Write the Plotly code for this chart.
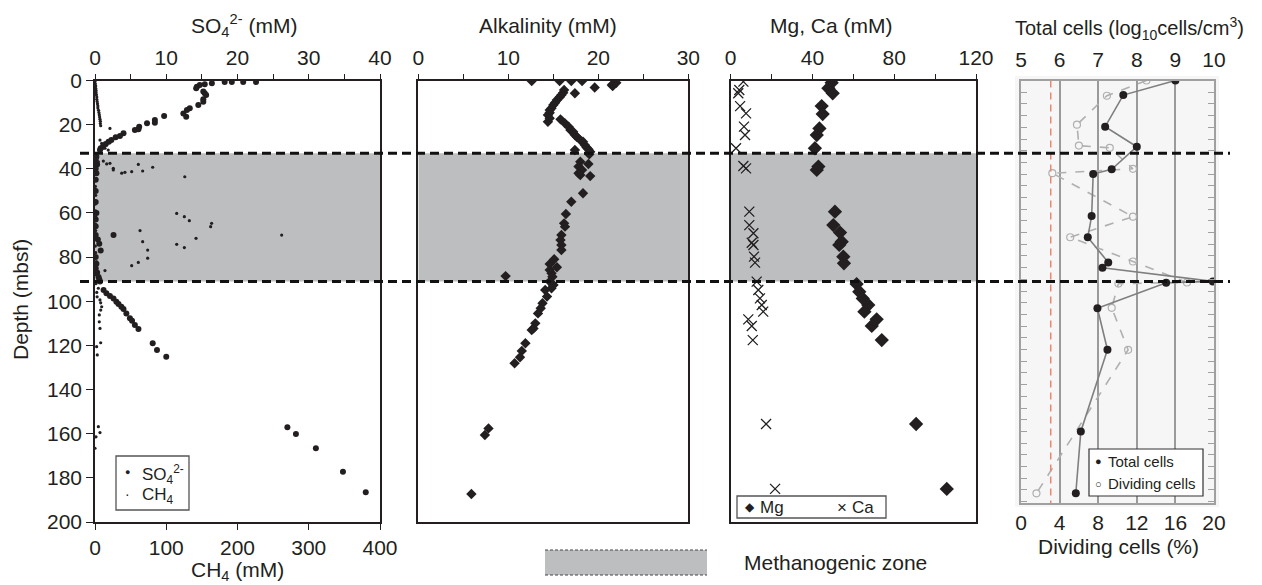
import plotly.graph_objects as go

# ---------------- DATA ----------------
so4_depth = [0.7, 0.7, 0.7, 0.7, 1.3, 1.7, 2.0, 2.8, 3.5, 5.0, 5.8, 6.6, 8.5, 9.6, 11.1,
             12.6, 13.4, 14.9, 16.4, 16.1, 17.9, 19.1, 19.4, 20.9, 22.1, 22.4, 23.9, 25.1,
             25.7, 27.0, 27.7, 28.8, 30.0, 30.7, 31.5,
             34.5, 36, 38, 40, 42, 45, 50, 55, 60, 63, 66, 70, 72, 74, 77, 80, 83, 85, 87, 89, 90, 70,
             91.1, 94.9, 96.4, 97.6, 98.7, 100.2, 101.2, 102.5, 103.5, 105.5, 107.7, 108.8, 110.8, 112.6,
             119.0, 122.1, 125.1, 157.1, 160.1, 166.6, 177.2, 186.5]
so4_mM = [18.2, 19.2, 20.8, 22.6, 16.4, 15.4, 14.7, 14.3, 14.2, 15.2, 15.4, 15.6, 15.2, 15.2, 14.5,
          13.3, 12.9, 12.4, 12.8, 9.7, 8.4, 8.4, 7.3, 6.2, 6.1, 5.6, 4.0, 3.5,
          2.9, 2.3, 1.9, 1.5, 1.1, 0.8, 0.7,
          0.2, 0.1, 0.3, 0.1, 0.2, 0.1, 0.1, 0.1, 0.2, 0.1, 0.1, 0.1, 0.4, 0.6, 0.8, 0.1, 0.2, 0.1, 0.3, 0.5, 0.6, 2.6,
          0.7, 1.2, 1.6, 2.1, 2.6, 3.0, 3.3, 3.7, 4.0, 4.4, 4.9, 5.2, 5.6, 6.1,
          8.1, 8.7, 10.0, 27.0, 28.2, 31.0, 34.8, 38.0]

ch4_depth = [0.5, 1.5, 2.5, 3.5, 4.5, 5.5, 6.5, 7.5, 8.5, 9.5, 10.5, 11.5, 12.5, 13.5, 14.5,
             15.5, 16.5, 17.5, 18.5, 19.5, 20.5, 21.7,
             27.0, 28.5, 30.3, 30.7, 31.5, 29.2, 28.2, 31.5,
             36.8, 36.5, 37.8, 37.5, 39.8, 40.5, 42.0, 41.6, 41.3, 38.0, 41.0, 39.3,
             43.6, 60.2, 61.7, 63.5, 64.7, 66.2, 68.0, 71.5, 73.0, 76.8, 80.5, 82.4, 83.9,
             74.2, 75.7, 70.0, 86.1,
             34, 40, 45, 48, 52, 56, 59, 62, 65, 68, 72, 75, 78, 82, 85, 88,
             92, 94.1, 96, 98, 99.4, 100.7, 102.5, 104.0, 106.2, 109.3, 112.3, 118.8, 120.6, 124.3,
             156.8, 159.5, 161.4, 166.6]
ch4_mM = [0, 0.5, 1, 1, 1.5, 1.5, 2, 2.5, 2.5, 3, 3.5, 4, 4, 5, 5.5,
          6, 6.5, 7, 7.5, 7.5, 8, 21,
          7, 9.4, 11.7, 14, 8, 16.4, 21, 18.6,
          4.7, 11.7, 16.4, 21, 25.7, 25.7, 37.5, 42, 51.5, 60.8, 66.9, 81,
          126, 114.7, 125.4, 132.4, 163.7, 162.3, 63.2, 141.8, 66.9, 73.9, 73.9, 60.8, 51.5,
          114.7, 125.4, 262, 14,
          1.0, 0.5, 1.5, 0.5, 1.0, 0.5, 1.0, 1.5, 0.5, 1.0, 1.5, 0.5, 1.0, 2.0, 1.0, 1.5,
          1.5, 4.7, 2.5, 3.0, 7.0, 8.0, 9.4, 8.0, 6.0, 6.0, 7.0, 8.0, 2.3, 3.2,
          4.7, 7.0, 1.4, 0.0]

alk_depth = [0.2, 0.2, 0.2, 0.2, 3.2, 2.0, 1.6, 1.0, 2.5, 5.8, 4.3, 5.5, 6.6, 7.6,
             8.8, 10.1, 11.1, 12.6, 13.4, 14.6, 15.6, 18.7, 17.1,
             17.6, 19.4, 20.9, 22.4, 23.2, 24.7, 25.5, 27.0, 27.7, 29.2, 30.3, 31.2, 32.3, 33.4, 31.5,
             36.8, 37.8, 39.0, 40.5, 42.0, 42.8, 43.3, 51.1, 54.9, 60.5, 64.7, 66.2,
             70.0, 72.3, 74.5, 76.8, 81.0, 83.1, 84.6, 85.8, 87.3, 88.9, 91.1, 92.6, 94.1, 88.6,
             92.6, 94.9, 97.9, 100.9, 103.2, 105.5, 110.0, 112.3, 113.0, 119.0, 122.5, 125.4, 128.1,
             157.6, 160.6, 187.3]
alk_mM = [12.6, 15.7, 17.0, 18.2, 19.6, 21.5, 21.7, 22.0, 21.6, 17.4, 16.2, 16.1, 15.9, 15.7,
          15.4, 15.2, 15.0, 14.8, 14.6, 14.6, 14.4, 14.4, 14.6,
          15.8, 16.3, 16.7, 16.9, 17.2, 17.4, 17.6, 18.0, 18.3, 18.5, 18.7, 18.9, 19.1, 19.0, 17.4,
          18.0, 18.9, 17.8, 18.2, 17.8, 18.0, 19.1, 18.3, 17.0, 16.4, 16.2, 16.3,
          15.9, 15.8, 15.9, 15.9, 15.1, 14.6, 15.4, 14.6, 14.8, 14.9, 14.6, 15.0, 14.8, 9.7,
          15.0, 14.1, 14.3, 13.8, 13.6, 13.3, 13.0, 12.8, 12.6, 11.9, 11.5, 11.3, 10.7,
          7.8, 7.4, 5.9]

mg_depth = [1.0, 3.5, 5.8, 11.6, 15.2, 21.7, 24.7, 30.7, 39.0, 40.5,
            59.4, 65.5, 68.9, 73.0, 74.5, 79.8, 82.8,
            92.2, 95.7, 98.7, 101.7, 104.7, 108.2, 111.2, 117.6, 155.6, 185.0]
mg_mM = [49.4, 47.8, 49.9, 44.5, 45.0, 43.4, 42.1, 41.2, 42.9, 42.1,
         51.0, 50.2, 53.5, 54.3, 53.1, 55.1, 55.4,
         61.6, 62.9, 64.6, 67.3, 65.4, 71.4, 69.0, 73.9, 90.7, 105.7]

ca_depth = [0.5, 4.3, 5.8, 11.6, 14.9, 20.9, 24.7, 30.7, 38.7, 39.8,
            59.4, 65.5, 69.2, 73.5, 74.5, 79.8, 82.5,
            91.1, 94.9, 98.7, 101.7, 104.7, 108.2, 111.2, 117.6, 155.6, 185.0]
ca_mM = [6.2, 4.2, 3.7, 4.6, 7.5, 6.5, 7.0, 2.6, 6.2, 7.5,
         9.1, 9.1, 11.1, 10.3, 11.1, 11.4, 11.9,
         12.7, 13.5, 14.3, 15.2, 15.9, 8.6, 10.3, 10.8, 17.3, 21.7]

cells_depth = [0.0, 6.6, 20.9, 30.0, 40.2, 42.4, 61.4, 71.0, 82.4, 84.8, 91.0, 91.6, 103.2, 122.0, 159.0, 187.0]
cells_log = [9.0, 7.65, 7.18, 8.0, 7.35, 6.87, 6.83, 6.73, 7.26, 7.11, 9.97, 8.76, 6.98, 7.24, 6.55, 6.42]

div_depth = [0.0, 6.9, 20.0, 29.5, 30.5, 40.0, 42.0, 61.7, 71.0, 82.0, 91.5, 92.0, 103.0, 122.0, 187.0]
div_pct = [13.0, 8.9, 5.8, 6.0, 9.2, 11.6, 3.25, 11.6, 5.1, 11.6, 17.2, 10.1, 9.4, 11.1, 1.6]

zone_top, zone_bottom = 33.0, 91.1
threshold_pct = 3.08

depth_ticks = [0, 20, 40, 60, 80, 100, 120, 140, 160, 180, 200]
so4_ticks = [0, 5, 10, 15, 20, 25, 30, 35, 40]
ch4_ticks = [0, 100, 200, 300, 400]
alk_ticks = [0, 5, 10, 15, 20, 25, 30]
mgca_ticks = [0, 20, 40, 60, 80, 100, 120]
cells_ticks = [5, 6, 7, 8, 9, 10]
pct_ticks = [0, 4, 8, 12, 16, 20]

# ---------------- LAYOUT HELPERS ----------------
W, H = 1262, 585
INK = "#231f20"
FONT = "Liberation Sans, Arial, sans-serif"


def px(x):
    return x / W


def py(y):
    return 1 - y / H


def lbl(vals, every):
    return [str(v) if v % every == 0 else "" for v in vals]


ydom = [py(522), py(80.5)]
ydom4 = [py(503), py(80.5)]
d1 = [px(95), px(380)]
d2 = [px(418.3), px(688.3)]
d3 = [px(730.7), px(976)]
d4 = [px(1021), px(1214)]

fig = go.Figure()

blk = "#231f20"
fig.add_trace(go.Scatter(x=so4_mM, y=so4_depth, xaxis="x", yaxis="y", mode="markers",
                         marker=dict(size=6, color=blk), name="SO4"))
fig.add_trace(go.Scatter(x=ch4_mM, y=ch4_depth, xaxis="x2", yaxis="y", mode="markers",
                         marker=dict(size=3.2, color=blk), name="CH4"))
fig.add_trace(go.Scatter(x=alk_mM, y=alk_depth, xaxis="x3", yaxis="y2", mode="markers",
                         marker=dict(size=8, color=blk, symbol="diamond"), name="Alk"))
fig.add_trace(go.Scatter(x=mg_mM, y=mg_depth, xaxis="x4", yaxis="y3", mode="markers",
                         marker=dict(size=11, color=blk, symbol="diamond"), name="Mg"))
fig.add_trace(go.Scatter(x=ca_mM, y=ca_depth, xaxis="x4", yaxis="y3", mode="markers",
                         marker=dict(size=10, color=blk, symbol="x-thin-open",
                                     line=dict(width=1.3, color=blk)), name="Ca"))
fig.add_trace(go.Scatter(x=div_pct, y=div_depth, xaxis="x5", yaxis="y4", mode="lines+markers",
                         line=dict(color="#b0b0b0", width=1.6, dash="dash"),
                         marker=dict(size=7, color="#b0b0b0", symbol="circle-open",
                                     line=dict(width=1.2, color="#b0b0b0")), name="Dividing"))
fig.add_trace(go.Scatter(x=cells_log, y=cells_depth, xaxis="x6", yaxis="y4", mode="lines+markers",
                         line=dict(color="#7f7f7f", width=1.6),
                         marker=dict(size=8, color=blk), name="Total"))

tickfont = dict(family=FONT, size=21, color=INK)
common_x = dict(showgrid=False, zeroline=False, showline=True, linecolor=INK, linewidth=1.5,
                tickcolor=INK, tickwidth=1.3, tickfont=tickfont, automargin=False)
common_y = dict(showgrid=False, zeroline=False, showline=True, linecolor=INK, linewidth=1.5,
                tickcolor=INK, tickwidth=1.3, tickfont=tickfont, range=[200, 0], domain=ydom,
                automargin=False)

fig.update_layout(
    template="none",
    width=W, height=H, autosize=False,
    margin=dict(l=0, r=0, t=0, b=0, pad=0),
    paper_bgcolor="white", plot_bgcolor="white",
    showlegend=False,
    font=dict(family=FONT, color=INK),
    xaxis=dict(common_x, domain=d1, range=[0, 40], side="top", anchor="y",
               tickmode="array", tickvals=so4_ticks, ticktext=lbl(so4_ticks, 10),
               ticks="outside", ticklen=5, ticklabelstandoff=0),
    xaxis2=dict(common_x, domain=d1, range=[0, 400], side="bottom", anchor="y", overlaying="x",
                tickmode="array", tickvals=ch4_ticks, ticktext=[str(v) for v in ch4_ticks],
                ticks="outside", ticklen=6),
    yaxis=dict(common_y, anchor="x", mirror=True, tickmode="array", tickvals=depth_ticks,
               ticks="outside", ticklen=7),
    xaxis3=dict(common_x, domain=d2, range=[0, 30], side="top", anchor="y2", mirror=True,
                tickmode="array", tickvals=alk_ticks, ticktext=lbl(alk_ticks, 10),
                ticks="outside", ticklen=5, ticklabelstandoff=0),
    yaxis2=dict(common_y, anchor="x3", mirror=True, showticklabels=False, ticks=""),
    xaxis4=dict(common_x, domain=d3, range=[0, 120], side="top", anchor="y3", mirror=True,
                tickmode="array", tickvals=mgca_ticks, ticktext=lbl(mgca_ticks, 40),
                ticks="outside", ticklen=5, ticklabelstandoff=0),
    yaxis3=dict(common_y, anchor="x4", mirror=True, showticklabels=False, ticks=""),
    xaxis5=dict(domain=d4, range=[0, 20], side="bottom", anchor="y4", showline=True, mirror=True,
                linecolor="#a0a0a0", linewidth=1.5, zeroline=False, automargin=False,
                showgrid=True, gridcolor="#9a9a9a", gridwidth=2,
                tickmode="array", tickvals=pct_ticks, ticks="", tickfont=tickfont,
                ticklabelstandoff=0),
    xaxis6=dict(domain=d4, range=[5, 10], side="top", anchor="y4", overlaying="x5",
                showline=False, showgrid=False, zeroline=False, automargin=False,
                tickmode="array", tickvals=cells_ticks, ticks="", tickfont=tickfont,
                ticklabelstandoff=8),
    yaxis4=dict(domain=ydom4, range=[191.4, 0], anchor="x5", showline=True, mirror="ticks",
                linecolor="#a0a0a0", linewidth=2, zeroline=False, showgrid=False, automargin=False,
                showticklabels=False, ticks="inside", ticklen=6, tickcolor="#a0a0a0",
                tickwidth=1, tick0=0, dtick=5.3),
)

shapes = []
# panel 4 background
shapes.append(dict(type="rect", xref="paper", yref="paper", x0=px(1015), x1=px(1219),
                   y0=py(507), y1=py(76), fillcolor="#f6f6f6", line=dict(width=0), layer="below"))
# methanogenic zone shading
for xr, yr, xmax in [("x", "y", 40), ("x3", "y2", 30), ("x4", "y3", 120)]:
    shapes.append(dict(type="rect", xref=xr, yref=yr, x0=0, x1=xmax, y0=zone_top, y1=zone_bottom,
                       fillcolor="#bcbec0", line=dict(width=0), layer="below"))
# red threshold line
shapes.append(dict(type="line", xref="x5", yref="y4", x0=threshold_pct, x1=threshold_pct,
                   y0=0, y1=191.4, line=dict(color="#e9886f", width=1.5, dash="7px,5px")))
# horizontal dashed boundary lines
for d in [zone_top, zone_bottom]:
    shapes.append(dict(type="line", xref="paper", yref="y", x0=px(80), x1=px(1230), y0=d, y1=d,
                       line=dict(color="#111111", width=3, dash="9px,5px")))
# legend boxes
shapes.append(dict(type="rect", xref="paper", yref="paper", x0=px(116), x1=px(189),
                   y0=py(510), y1=py(456), line=dict(color="#555555", width=1.3), fillcolor="white"))
shapes.append(dict(type="rect", xref="paper", yref="paper", x0=px(737), x1=px(886),
                   y0=py(518), y1=py(496), line=dict(color="#555555", width=1.3), fillcolor="white"))
shapes.append(dict(type="rect", xref="paper", yref="paper", x0=px(1089), x1=px(1203),
                   y0=py(496), y1=py(449), line=dict(color="#333333", width=1.2), fillcolor="white"))
# bottom zone legend
shapes.append(dict(type="rect", xref="paper", yref="paper", x0=px(545), x1=px(707),
                   y0=py(575), y1=py(550), fillcolor="#bcbec0", line=dict(width=0)))
for yy in [550, 575]:
    shapes.append(dict(type="line", xref="paper", yref="paper", x0=px(545), x1=px(707),
                       y0=py(yy), y1=py(yy), line=dict(color="#444444", width=1, dash="3px,2px")))
fig.update_layout(shapes=shapes)


def ann(x, y, text, size=21, xanchor="center", angle=0, color=INK):
    return dict(xref="paper", yref="paper", x=px(x), y=py(y), text=text, showarrow=False,
                xanchor=xanchor, yanchor="middle", textangle=angle,
                font=dict(family=FONT, size=size, color=color))


anns = [
    ann(244, 26, "SO<sub>4</sub><sup>2-</sup> (mM)"),
    ann(548, 26, "Alkalinity (mM)"),
    ann(831, 26, "Mg, Ca (mM)"),
    ann(1129, 28, "Total cells (log<sub>10</sub>cells/cm<sup>3</sup>)", size=20),
    ann(237, 571, "CH<sub>4</sub> (mM)"),
    ann(20, 300, "Depth (mbsf)", angle=-90),
    ann(1118, 546, "Dividing cells (%)"),
    ann(742, 562, "Methanogenic zone", xanchor="left"),
    # legend panel 1
    ann(127, 472, "●", size=9, xanchor="center"),
    ann(140, 474, "SO<sub>4</sub><sup>2-</sup>", size=17, xanchor="left"),
    ann(127, 494, "·", size=14, xanchor="center"),
    ann(140, 496, "CH<sub>4</sub>", size=17, xanchor="left"),
    # legend panel 3
    ann(750, 507, "◆", size=12, xanchor="center"),
    ann(758, 507, "Mg", size=17, xanchor="left"),
    ann(842, 507, "×", size=17, xanchor="center"),
    ann(850, 507, "Ca", size=17, xanchor="left"),
    # legend panel 4
    ann(1098, 461, "●", size=11, xanchor="center"),
    ann(1106, 461, "Total cells", size=15, xanchor="left"),
    ann(1098, 484, "○", size=11, xanchor="center"),
    ann(1106, 484, "Dividing cells", size=15, xanchor="left"),
]
fig.update_layout(annotations=anns)

fig.write_html("out.html")
